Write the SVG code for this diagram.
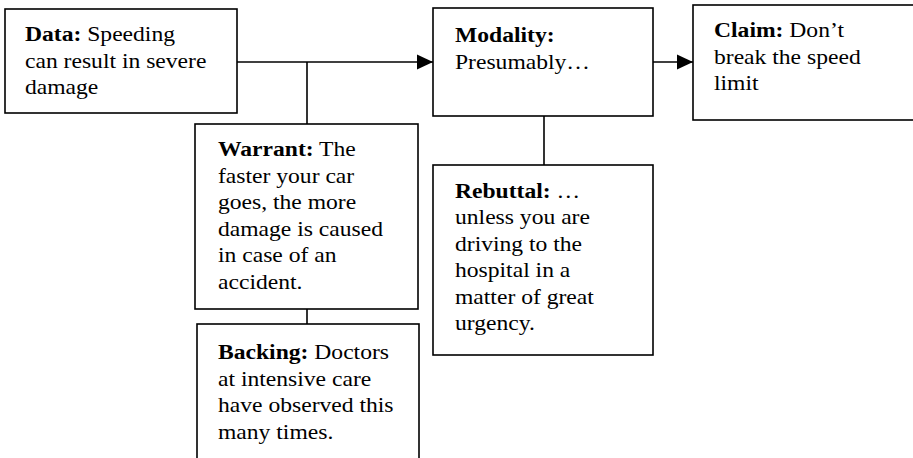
<svg xmlns="http://www.w3.org/2000/svg" width="913" height="458" viewBox="0 0 913 458">
  <style>
    .box { fill: #fff; stroke: #000; stroke-width: 1.6; }
    .wire { fill: none; stroke: #000; stroke-width: 1.6; }
    .txt { font-family: "Liberation Serif", "Times New Roman", serif; font-size: 20px; fill: #000; }
    .b { font-weight: bold; }
  </style>
  <defs>
    <marker id="head" markerUnits="userSpaceOnUse" markerWidth="16" markerHeight="16" viewBox="0 0 15 14" refX="15" refY="7" orient="auto">
      <polygon points="0,0 15,7 0,14" fill="#000"/>
    </marker>
  </defs>
  <rect width="913" height="458" fill="#fff"/>

  <g id="connectors">
    <line class="wire" x1="237" y1="62" x2="433" y2="62" marker-end="url(#head)"/>
    <line class="wire" x1="307" y1="62" x2="307" y2="124"/>
    <line class="wire" x1="307" y1="309" x2="307" y2="324"/>
    <line class="wire" x1="653" y1="62" x2="693" y2="62" marker-end="url(#head)"/>
    <line class="wire" x1="544" y1="116" x2="544" y2="165"/>
  </g>

  <g id="data">
    <rect class="box" x="5" y="9" width="232" height="104"/>
    <text class="txt" transform="matrix(1.18 0 0 1 25 41)"><tspan class="b">Data:</tspan> Speeding<tspan x="0" y="26.6">can result in severe</tspan><tspan x="0" y="53.2">damage</tspan></text>
  </g>

  <g id="warrant">
    <rect class="box" x="195" y="124" width="223" height="185"/>
    <text class="txt" transform="matrix(1.18 0 0 1 218 156)"><tspan class="b">Warrant:</tspan> The<tspan x="0" y="26.6">faster your car</tspan><tspan x="0" y="53.2">goes, the more</tspan><tspan x="0" y="79.8">damage is caused</tspan><tspan x="0" y="106.4">in case of an</tspan><tspan x="0" y="133">accident.</tspan></text>
  </g>

  <g id="backing">
    <rect class="box" x="197" y="324" width="222" height="150"/>
    <text class="txt" transform="matrix(1.18 0 0 1 218 359)"><tspan class="b">Backing:</tspan> Doctors<tspan x="0" y="26.6">at intensive care</tspan><tspan x="0" y="53.2">have observed this</tspan><tspan x="0" y="79.8">many times.</tspan></text>
  </g>

  <g id="modality">
    <rect class="box" x="433" y="8" width="220" height="108"/>
    <text class="txt" transform="matrix(1.18 0 0 1 455 42)"><tspan class="b">Modality:</tspan><tspan x="0" y="27">Presumably…</tspan></text>
  </g>

  <g id="claim">
    <rect class="box" x="693" y="5" width="230" height="115"/>
    <text class="txt" transform="matrix(1.18 0 0 1 714 37)"><tspan class="b">Claim:</tspan> Don’t<tspan x="0" y="26.6">break the speed</tspan><tspan x="0" y="53.2">limit</tspan></text>
  </g>

  <g id="rebuttal">
    <rect class="box" x="433" y="165" width="220" height="190"/>
    <text class="txt" transform="matrix(1.18 0 0 1 455 198)"><tspan class="b">Rebuttal:</tspan> …<tspan x="0" y="26.5">unless you are</tspan><tspan x="0" y="53">driving to the</tspan><tspan x="0" y="79.5">hospital in a</tspan><tspan x="0" y="106">matter of great</tspan><tspan x="0" y="132.5">urgency.</tspan></text>
  </g>
</svg>
